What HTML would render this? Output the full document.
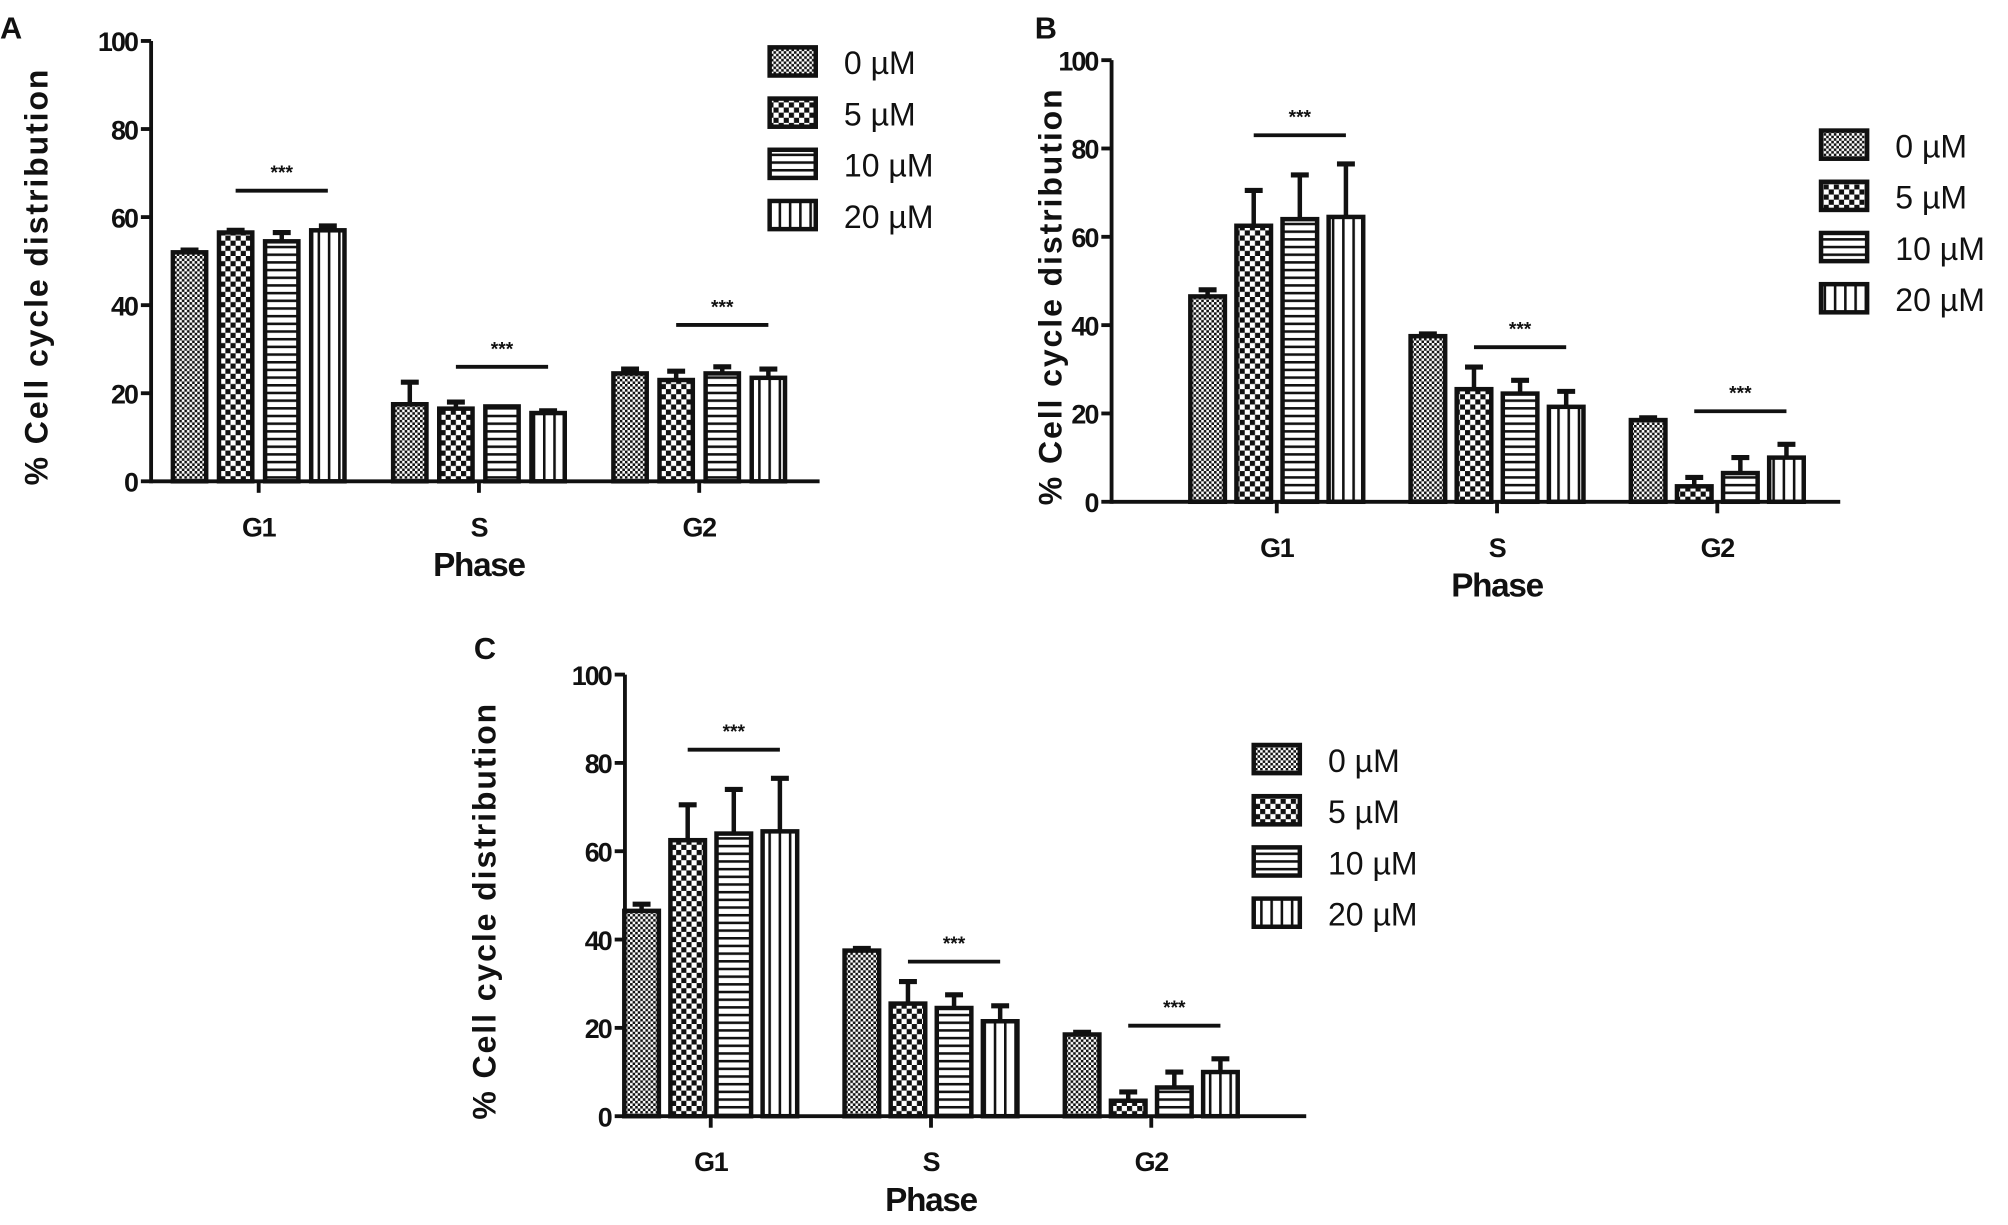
<!DOCTYPE html>
<html><head><meta charset="utf-8"><style>
html,body{margin:0;padding:0;background:#fff}
svg{display:block}
text{font-family:"Liberation Sans",Arial,sans-serif;font-weight:bold;fill:#111}
text.leg{font-weight:normal}
</style></head><body>
<svg id="fig" width="2008" height="1225" viewBox="0 0 1568 957" preserveAspectRatio="none" xmlns="http://www.w3.org/2000/svg">
<defs>
<pattern id="p0" width="4" height="4" patternUnits="userSpaceOnUse"><rect width="4" height="4" fill="#fff"/><rect width="2" height="2" fill="#111"/><rect x="2" y="2" width="2" height="2" fill="#111"/></pattern>
<pattern id="p1" width="8" height="8" patternUnits="userSpaceOnUse"><rect width="8" height="8" fill="#fff"/><rect width="4" height="4" fill="#111"/><rect x="4" y="4" width="4" height="4" fill="#111"/></pattern>
<pattern id="p2" width="6" height="6" patternUnits="userSpaceOnUse"><rect width="6" height="6" fill="#fff"/><rect width="6" height="2" fill="#111"/></pattern>
<pattern id="p3" width="8" height="8" patternUnits="userSpaceOnUse"><rect width="8" height="8" fill="#fff"/><rect width="2" height="8" fill="#111"/></pattern>
</defs>
</svg>
<script>
const phases = ["G1","S","G2"];
const doses = ["0 µM","5 µM","10 µM","20 µM"];
const yTicks = [0,20,40,60,80,100];
// Panel A values [dose][phase]
const aMeans = [[52,17.5,24.5],[56.5,16.5,23],[54.5,17,24.5],[57,15.5,23.5]];
const aErrs  = [[0.5,5,1],[0.5,1.5,2],[2,0,1.5],[1,0.5,2]];
const aSig   = [66,26,35.5];
// Panel B values
const bMeans = [[46.5,37.5,18.5],[62.5,25.5,3.5],[64,24.5,6.5],[64.5,21.5,10]];
const bErrs  = [[1.5,0.5,0.5],[8,5,2],[10,3,3.5],[12,3.5,3]];
const bSig   = [83,35,20.5];
// Panel C values
const cMeans = [[46.5,37.5,18.5],[62.5,25.5,3.5],[64,24.5,6.5],[64.5,21.5,10]];
const cErrs  = [[1.5,0.5,0.5],[8,5,2],[10,3,3.5],[12,3.5,3]];
const cSig   = [83,35,20.5];

const NS="http://www.w3.org/2000/svg";
const svg=document.getElementById('fig');
function mk(tag,attrs,parent){const e=document.createElementNS(NS,tag);for(const k in attrs)e.setAttribute(k,attrs[k]);(parent||svg).appendChild(e);return e;}

function panel(cfg,means,errs,sig){
  const g=mk('g',{});
  
  
  const y=v=>cfg.y0-(cfg.y0-cfg.y100)*v/100;
  const gc=i=>cfg.g0+i*cfg.gs;
  const L=mk('text',{x:cfg.lx,y:cfg.ly,'font-size':24},g);L.textContent=cfg.id;
  
  
  const ya=mk('line',{x1:cfg.ax,y1:cfg.y100,x2:cfg.ax,y2:cfg.y0+1.5,stroke:'#111','stroke-width':3},g);
  
  
  yTicks.forEach(t=>{
    mk('line',{x1:cfg.ax-8,y1:y(t),x2:cfg.ax,y2:y(t),stroke:'#111','stroke-width':3},g);
    const tt=mk('text',{x:cfg.ax-11,y:y(t)+8,'font-size':21,'text-anchor':'end','letter-spacing':'-1.5'},g);tt.textContent=t;
    
    
  });
  const xa=mk('line',{x1:cfg.ax,y1:cfg.y0,x2:cfg.xe,y2:cfg.y0,stroke:'#111','stroke-width':3},g);
  
  
  phases.forEach((p,i)=>{
    mk('line',{x1:gc(i),y1:cfg.y0,x2:gc(i),y2:cfg.y0+9,stroke:'#111','stroke-width':3},g);
    const tt=mk('text',{x:gc(i),y:cfg.y0+43,'font-size':21,'text-anchor':'middle','letter-spacing':'-1'},g);tt.textContent=p;
    
    
  });
  const xt=mk('text',{x:gc(1),y:cfg.y0+74,'font-size':26,'text-anchor':'middle','letter-spacing':'-1'},g);xt.textContent='Phase';
  
  
  const yt=mk('text',{x:0,y:0,'font-size':25,'text-anchor':'middle','letter-spacing':'1.5',transform:`translate(${cfg.tx},${(cfg.y0+cfg.y100)/2+12}) rotate(-90)`},g);yt.textContent='% Cell cycle distribution';
  
  
  const bw=cfg.bw;
  doses.forEach((d,di)=>{
    phases.forEach((p,pi)=>{
      const cx=gc(pi)+(di-1.5)*cfg.bs;
      const v=means[di][pi], e=errs[di][pi];
      if(e>0){
        const eb=mk('line',{x1:cx,y1:y(v),x2:cx,y2:y(v+e),stroke:'#111','stroke-width':3.5},g);
        
        
        mk('line',{x1:cx-7,y1:y(v+e),x2:cx+7,y2:y(v+e),stroke:'#111','stroke-width':4},g);
      }
      const r=mk('rect',{x:cx-bw/2,y:y(v),width:bw,height:cfg.y0-y(v),fill:`url(#p${di})`,stroke:'#111','stroke-width':3.5},g);
      
      
    });
  });
  sig.forEach((s,pi)=>{
    const x1=gc(pi)-18, x2=gc(pi)+54;
    const sl=mk('line',{x1:x1,y1:y(s),x2:x2,y2:y(s),stroke:'#111','stroke-width':3},g);
    
    
    const st=mk('text',{x:(x1+x2)/2,y:y(s)-9,'font-size':15,'text-anchor':'middle'},g);st.textContent='***';
    
    
  });
  doses.forEach((d,di)=>{
    const ly=cfg.legy+di*40;
    const lb=mk('rect',{x:cfg.legx,y:ly,width:36,height:22,fill:`url(#p${di})`,stroke:'#111','stroke-width':3.5},g);
    
    
    const lt=mk('text',{x:cfg.legx+58,y:ly+21,'font-size':25,'class':'leg'},g);lt.textContent=d;
    
    
  });
}
panel({id:'A',lx:0,ly:30,ax:118,y100:32,y0:376,xe:640,g0:202,gs:172,bs:36,bw:26,tx:37,legx:601,legy:37},aMeans,aErrs,aSig);
panel({id:'B',lx:808,ly:30,ax:868,y100:47,y0:392,xe:1437,g0:997,gs:172,bs:36,bw:27,tx:829,legx:1422,legy:102},bMeans,bErrs,bSig);
panel({id:'C',lx:370,ly:515,ax:488,y100:527,y0:872,xe:1020,g0:555,gs:172,bs:36,bw:27,tx:387,legx:979,legy:582},cMeans,cErrs,cSig);
</script>
</body></html>
